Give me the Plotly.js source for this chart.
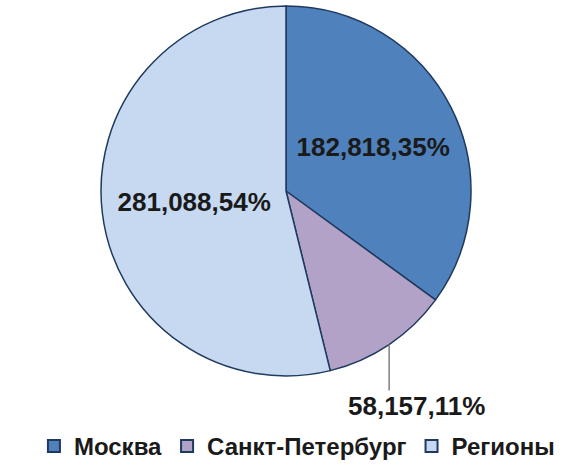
<!DOCTYPE html>
<html>
<head>
<meta charset="utf-8">
<script src="https://cdn.plot.ly/plotly-3.0.1.min.js"></script>
<style>html,body{margin:0;padding:0;background:#fff;}#chart{width:588px;height:469px;}</style>
</head>
<body>
<div id="chart"></div>
<script>
var categories = ["Москва", "Санкт-Петербург", "Регионы"];
var values = [182818, 58157, 281088];
var colors = ["#4F81BD", "#B3A2C7", "#C6D9F1"];

var W = 588, H = 469;
var total = values.reduce(function(a, b){ return a + b; }, 0);
var labelsText = values.map(function(v){
  return v.toLocaleString('en-US') + ',' + Math.round(v / total * 100) + '%';
});

var dom = {x: [0.1718, 0.8010], y: [0.1962, 0.9893]};
var cx = (dom.x[0] + dom.x[1]) / 2 * W;
var cyTop = (1 - (dom.y[0] + dom.y[1]) / 2) * H;
var r = Math.min((dom.x[1] - dom.x[0]) * W, (dom.y[1] - dom.y[0]) * H) / 2;

// edge point of the second slice (clockwise from 12 o'clock)
var cum = values[0] + values[1] / 2;
var ang = cum / total * 2 * Math.PI;
var ex = cx + r * Math.sin(ang);
var ey = cyTop - r * Math.cos(ang);

var trace = {
  type: 'pie',
  labels: categories,
  values: values,
  text: labelsText,
  textinfo: 'text',
  textposition: ['inside', 'none', 'inside'],
  insidetextorientation: 'horizontal',
  sort: false,
  direction: 'clockwise',
  rotation: 0,
  domain: dom,
  marker: {colors: colors, line: {color: '#1F3A5F', width: 1.5}},
  textfont: {family: 'Liberation Sans, Arial, sans-serif', size: 26, color: '#1a1a1a', weight: 'bold'},
  hoverinfo: 'none'
};

var layout = {
  width: W, height: H,
  margin: {l: 0, r: 0, t: 0, b: 0},
  paper_bgcolor: '#fff',
  showlegend: true,
  legend: {
    orientation: 'h', x: 0.505, xanchor: 'center', y: 0.0, yanchor: 'bottom',
    font: {family: 'Liberation Sans, Arial, sans-serif', size: 24, color: '#1a1a1a', weight: 'bold'},
    itemsizing: 'constant', itemwidth: 30
  },
  shapes: [{
    type: 'line', xref: 'paper', yref: 'paper',
    x0: ex / W, x1: ex / W, y0: 1 - ey / H, y1: 1 - (ey + 46) / H,
    line: {color: '#7f7f7f', width: 1.5}
  }],
  annotations: [{
    xref: 'paper', yref: 'paper',
    x: (ex + 27) / W, y: 1 - (ey + 44) / H,
    xanchor: 'center', yanchor: 'top',
    text: labelsText[1], showarrow: false,
    font: {family: 'Liberation Sans, Arial, sans-serif', size: 26, color: '#1a1a1a', weight: 'bold'}
  }]
};

Plotly.newPlot('chart', [trace], layout, {displayModeBar: false, staticPlot: true});
</script>
</body>
</html>
